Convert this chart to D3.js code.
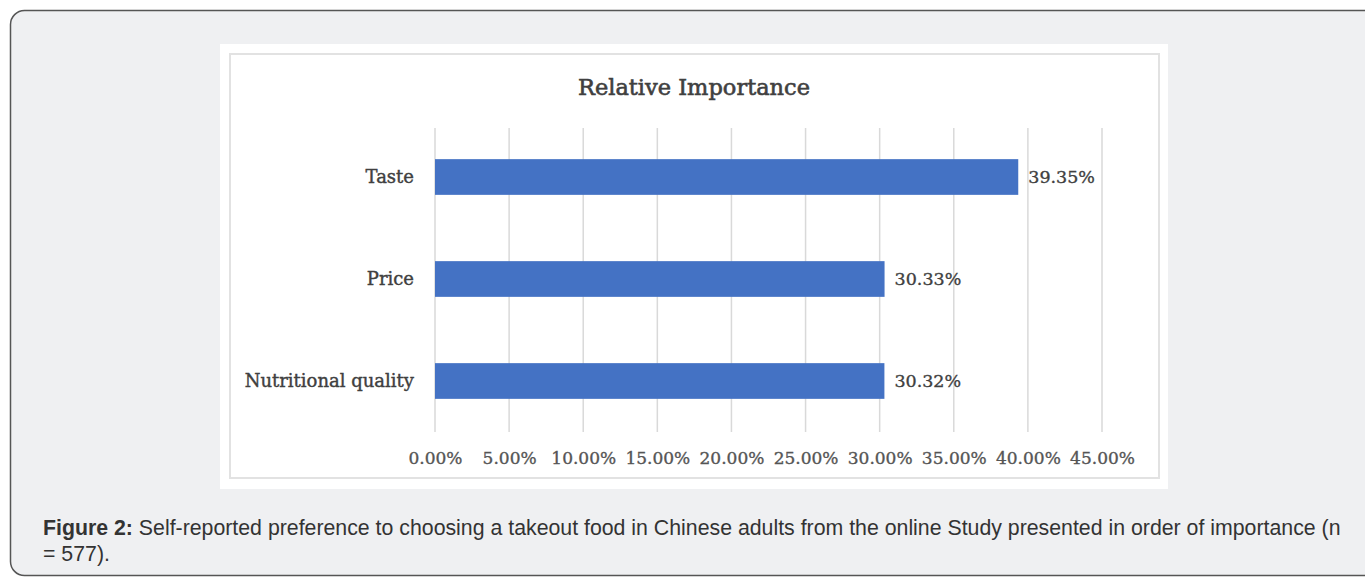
<!DOCTYPE html>
<html>
<head>
<meta charset="utf-8">
<script src="https://cdn.jsdelivr.net/npm/d3@7"></script>
<style>
  html, body { margin: 0; padding: 0; background: #ffffff; }
  svg { display: block; }
</style>
</head>
<body>
<svg id="chart" width="1365" height="577"></svg>
<script>
// ---- data ----
const categories = ["Taste", "Price", "Nutritional quality"];
const values = [39.35, 30.33, 30.32];
const valueLabels = ["39.35%", "30.33%", "30.32%"];
const tickValues = [0, 5, 10, 15, 20, 25, 30, 35, 40, 45];
const tickLabels = ["0.00%", "5.00%", "10.00%", "15.00%", "20.00%", "25.00%", "30.00%", "35.00%", "40.00%", "45.00%"];
const chartTitle = "Relative Importance";
const captionBold = "Figure 2:";
const captionLine1 = " Self-reported preference to choosing a takeout food in Chinese adults from the online Study presented in order of importance (n";
const captionLine2 = "= 577).";

const svg = d3.select("#chart");
const serif = "'DejaVu Serif', serif";
const sans = "'Liberation Sans', Arial, sans-serif";

// page panel
svg.append("rect").attr("x", 10.5).attr("y", 10.5).attr("width", 1400).attr("height", 565)
  .attr("rx", 14).attr("ry", 14)
  .attr("fill", "#eff0f2").attr("stroke", "#555").attr("stroke-width", 1.5);

// chart image
svg.append("rect").attr("x", 220).attr("y", 44).attr("width", 948).attr("height", 445).attr("fill", "#ffffff");
svg.append("rect").attr("x", 230).attr("y", 54).attr("width", 929).attr("height", 424)
  .attr("fill", "none").attr("stroke", "#e2e2e2").attr("stroke-width", 2);

// scales
const x = d3.scaleLinear().domain([0, 45]).range([435, 1102]);
const y = d3.scaleBand().domain(categories).range([126, 432]).paddingInner(0.65).paddingOuter(0.325);

// gridlines
svg.append("g").selectAll("line").data(tickValues).join("line")
  .attr("x1", d => x(d)).attr("x2", d => x(d))
  .attr("y1", 128).attr("y2", 432)
  .attr("stroke", "#d9d9d9").attr("stroke-width", 1.5);

// x tick labels via axis
const xAxis = d3.axisBottom(x).tickValues(tickValues).tickSize(0).tickPadding(0)
  .tickFormat((d, i) => tickLabels[i]);
const gx = svg.append("g").attr("transform", "translate(0,452)").call(xAxis);
gx.select(".domain").remove();
gx.selectAll("text").attr("font-family", serif).attr("font-size", 17).attr("fill", "#555")
  .attr("stroke", "#555").attr("stroke-width", 0.35);

// y labels via axis
const yAxis = d3.axisLeft(y).tickSize(0).tickPadding(21);
const gy = svg.append("g").attr("transform", "translate(435,0)").call(yAxis);
gy.select(".domain").remove();
gy.selectAll("text").attr("font-family", serif).attr("font-size", 18).attr("fill", "#404040")
  .attr("stroke", "#404040").attr("stroke-width", 0.4);

// bars
svg.append("g").selectAll("rect").data(categories).join("rect")
  .attr("x", x(0)).attr("y", d => y(d))
  .attr("width", (d, i) => x(values[i]) - x(0))
  .attr("height", y.bandwidth())
  .attr("fill", "#4472c4");

// value labels
svg.append("g").selectAll("text").data(categories).join("text")
  .attr("x", (d, i) => x(values[i]) + 10)
  .attr("y", d => y(d) + y.bandwidth() / 2)
  .attr("dy", "0.35em")
  .attr("font-family", serif).attr("font-size", 17.5).attr("fill", "#404040")
  .attr("stroke", "#404040").attr("stroke-width", 0.35)
  .text((d, i) => valueLabels[i]);

// title
svg.append("text").attr("x", 694).attr("y", 95).attr("text-anchor", "middle")
  .attr("font-family", serif).attr("font-size", 22.5).attr("fill", "#404040")
  .attr("stroke", "#404040").attr("stroke-width", 0.6)
  .text(chartTitle);

// caption
const cap = svg.append("text").attr("x", 43).attr("y", 535)
  .attr("font-family", sans).attr("font-size", 21.3).attr("fill", "#333");
cap.append("tspan").attr("font-weight", "bold").text(captionBold);
cap.append("tspan").text(captionLine1);
svg.append("text").attr("x", 43).attr("y", 561)
  .attr("font-family", sans).attr("font-size", 21.3).attr("fill", "#333")
  .text(captionLine2);
</script>
</body>
</html>
